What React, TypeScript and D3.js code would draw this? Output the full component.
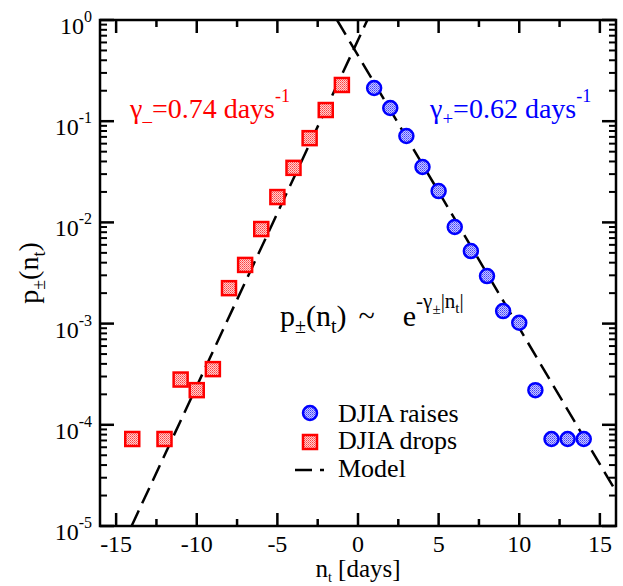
import React from "react";
import * as d3 from "d3";

// ---- data ----
const raisesN = [1, 2, 3, 4, 5, 6, 7, 8, 9, 10, 11, 12, 13, 14];
const raisesP = [0.213, 0.135, 0.0714, 0.0353, 0.0204, 0.009, 0.00521, 0.00295, 0.00133, 0.00102, 0.00022, 7.24e-5, 7.24e-5, 7.24e-5];
const dropsN = [-1, -2, -3, -4, -5, -6, -7, -8, -9, -10, -11, -12, -14];
const dropsP = [0.228, 0.129, 0.068, 0.0346, 0.0178, 0.0086, 0.0038, 0.00224, 0.000355, 0.00022, 0.00028, 7.24e-5, 7.24e-5];
// model line endpoints (straight on log scale)
const modelPlusN = [-1.3, 16];
const modelPlusP = [1, 2.19e-5];
const modelMinusN = [-14.04, 0.58];
const modelMinusP = [1e-5, 1];
const xTicks = [-15, -10, -5, 0, 5, 10, 15];
const yExponents = [0, -1, -2, -3, -4, -5];
const legendLabels = ["DJIA raises", "DJIA drops", "Model"];

const W = 623;
const H = 586;
const L = 100, R = 616, T = 20, B = 526;
const FONT = "Liberation Serif";

export default function App() {
  const x = d3.scaleLinear().domain([-16, 16]).range([L, R]);
  const y = d3.scaleLog().domain([1e-5, 1]).range([B, T]);
  const line = d3.line<[number, number]>().x((d) => x(d[0])).y((d) => y(d[1]));

  const xMinor = d3.range(-15, 16, 2.5).filter((v) => !xTicks.includes(v));
  const yMinor: number[] = [];
  for (let e = -5; e < 0; e++) for (let k = 2; k <= 9; k++) yMinor.push(k * Math.pow(10, e));

  const plusPts = modelPlusN.map((n, i) => [n, modelPlusP[i]] as [number, number]);
  const minusPts = modelMinusN.map((n, i) => [n, modelMinusP[i]] as [number, number]);

  const sq = 14;
  const cr = 7;
  const dash = "17,8";
  const ts = { fontFamily: FONT };

  return (
    <svg width={W} height={H} fontFamily={FONT} style={{ position: "absolute", left: 0, top: 0, background: "#fff" }}>
      <style>{`text { font-family: "Liberation Serif", serif; }`}</style>
      <defs>
        <clipPath id="plot">
          <rect x={L} y={T} width={R - L} height={B - T} />
        </clipPath>
        <pattern id="bluefill" width="2" height="2" patternUnits="userSpaceOnUse">
          <rect width="2" height="2" fill="#c8c8ff" />
          <rect width="1" height="1" fill="#3f3fff" />
          <rect x="1" y="1" width="1" height="1" fill="#6f6fff" />
        </pattern>
        <pattern id="redfill" width="2" height="2" patternUnits="userSpaceOnUse">
          <rect width="2" height="2" fill="#ffd0d0" />
          <rect width="1" height="1" fill="#ff4040" />
          <rect x="1" y="1" width="1" height="1" fill="#ff7070" />
        </pattern>
      </defs>

      {/* model lines */}
      <g clipPath="url(#plot)" fill="none" stroke="#000" strokeWidth={2.5} strokeDasharray={dash}>
        <path d={line(plusPts) || ""} />
        <path d={line(minusPts) || ""} />
      </g>

      {/* data */}
      {dropsN.map((n, i) => (
        <rect key={"d" + i} x={x(n) - sq / 2} y={y(dropsP[i]) - sq / 2} width={sq} height={sq}
          fill="url(#redfill)" stroke="#ff0000" strokeWidth={2.5} />
      ))}
      {raisesN.map((n, i) => (
        <circle key={"r" + i} cx={x(n)} cy={y(raisesP[i])} r={cr}
          fill="url(#bluefill)" stroke="#0000ff" strokeWidth={2.5} />
      ))}

      {/* frame */}
      <rect x={L} y={T} width={R - L} height={B - T} fill="none" stroke="#000" strokeWidth={2.5} />

      {/* x ticks */}
      {xTicks.map((t) => (
        <g key={"xt" + t} stroke="#000" strokeWidth={2.5}>
          <line x1={x(t)} x2={x(t)} y1={B} y2={B - 13} />
          <line x1={x(t)} x2={x(t)} y1={T} y2={T + 13} />
        </g>
      ))}
      {xMinor.map((t) => (
        <g key={"xm" + t} stroke="#000" strokeWidth={2.5}>
          <line x1={x(t)} x2={x(t)} y1={B} y2={B - 7} />
          <line x1={x(t)} x2={x(t)} y1={T} y2={T + 7} />
        </g>
      ))}
      {xTicks.map((t) => (
        <text key={"xl" + t} style={ts} fontFamily={FONT} x={x(t)} y={552} fontSize={24} textAnchor="middle">
          {t < 0 ? "-" + Math.abs(t) : String(t)}
        </text>
      ))}

      {/* y ticks */}
      {yExponents.map((e) => (
        <g key={"yt" + e} stroke="#000" strokeWidth={2.5}>
          <line x1={L} x2={L + 14} y1={y(Math.pow(10, e))} y2={y(Math.pow(10, e))} />
          <line x1={R} x2={R - 14} y1={y(Math.pow(10, e))} y2={y(Math.pow(10, e))} />
        </g>
      ))}
      {yMinor.map((v, i) => (
        <g key={"ym" + i} stroke="#000" strokeWidth={2}>
          <line x1={L} x2={L + 7} y1={y(v)} y2={y(v)} />
          <line x1={R} x2={R - 7} y1={y(v)} y2={y(v)} />
        </g>
      ))}
      {yExponents.map((e) => (
        <text key={"yl" + e} style={ts} fontFamily={FONT} x={92} y={y(Math.pow(10, e)) + 14} fontSize={24} textAnchor="end">
          10<tspan fontSize={16} dy={-12}>{e < 0 ? "-" + Math.abs(e) : String(e)}</tspan>
        </text>
      ))}

      {/* axis titles */}
      <text style={ts} fontFamily={FONT} transform={`translate(38,${(T + B) / 2}) rotate(-90)`} fontSize={28} textAnchor="middle">
        p<tspan fontSize={18} dy={7}>±</tspan><tspan dy={-7}>(n</tspan><tspan fontSize={18} dy={7}>t</tspan><tspan dy={-7}>)</tspan>
      </text>
      <text style={ts} fontFamily={FONT} x={358} y={577} fontSize={25} textAnchor="middle">
        n<tspan fontSize={14} dy={5}>t</tspan><tspan dy={-5}> [days]</tspan>
      </text>

      {/* gamma annotations */}
      <text style={ts} fontFamily={FONT} x={130} y={118} fontSize={28} fill="#ff0000">
        γ<tspan fontSize={19} dy={3}>_</tspan><tspan dy={-3}>=0.74 days</tspan><tspan fontSize={18} dy={-16}>-1</tspan>
      </text>
      <text style={ts} fontFamily={FONT} x={430} y={118} fontSize={28} fill="#0000ff">
        γ<tspan fontSize={19} dy={7}>+</tspan><tspan dy={-7}>=0.62 days</tspan><tspan fontSize={18} dy={-16}>-1</tspan>
      </text>

      {/* formula */}
      <text style={ts} fontFamily={FONT} x={280} y={326} fontSize={30}>
        p<tspan fontSize={20} dy={7}>±</tspan><tspan dy={-7}>(n</tspan><tspan fontSize={20} dy={7}>t</tspan><tspan dy={-7}>)</tspan>
        <tspan dx={12}>~</tspan><tspan dx={28}>e</tspan>
        <tspan fontSize={21} dy={-18}>-γ</tspan><tspan fontSize={15} dy={6}>±</tspan><tspan fontSize={21} dy={-6}>|n</tspan><tspan fontSize={15} dy={5}>t</tspan><tspan fontSize={21} dy={-5}>|</tspan>
      </text>

      {/* legend */}
      <circle cx={310} cy={413} r={cr} fill="url(#bluefill)" stroke="#0000ff" strokeWidth={2.5} />
      <rect x={310 - sq / 2} y={442 - sq / 2} width={sq} height={sq} fill="url(#redfill)" stroke="#ff0000" strokeWidth={2.5} />
      <line x1={295} x2={324} y1={470} y2={470} stroke="#000" strokeWidth={2.5} strokeDasharray={dash} />
      {legendLabels.map((s, i) => (
        <text key={s} style={ts} fontFamily={FONT} x={338} y={[422, 449, 477][i]} fontSize={26}>{s}</text>
      ))}
    </svg>
  );
}
